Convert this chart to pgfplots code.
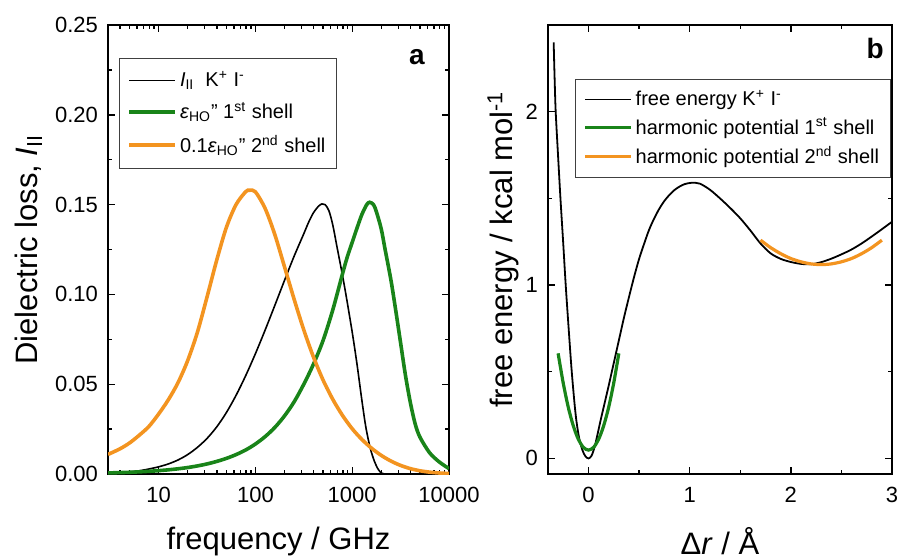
\documentclass[border=0pt]{standalone}
\usepackage{fontspec}
\setmainfont{Liberation Sans}
\usepackage{pgfplots}
\pgfplotsset{compat=1.18}
\definecolor{cgreen}{RGB}{25,132,25}
\definecolor{corange}{RGB}{243,148,32}
\pgfplotsset{
  myaxis/.style={
    scale only axis,
    anchor=south west,
    axis line style={line width=0.8pt},
    every tick/.style={line width=0.7pt, black},
    major tick length=3.5pt,
    minor tick length=2pt,
    tick align=inside,
    tick pos=both,
    tick label style={font=\fontsize{11}{13}\selectfont},
    x tick label style={yshift=-3pt},
    y tick label style={xshift=-1.5pt},
    label style={font=\fontsize{15.5}{18}\selectfont},
    legend cell align=left,
    legend image code/.code={\draw[##1] (0pt,0pt) -- (23pt,0pt);},
  }
}
\begin{document}
\begin{tikzpicture}
\path[use as bounding box] (-54pt,-42.5pt) rectangle (395.5pt,237pt);
% ---------------- panel a ----------------
\begin{axis}[myaxis,
  at={(0pt,0pt)},
  width=170.5pt, height=224.5pt,
  xmode=log, xmin=3, xmax=10000,
  ymin=0, ymax=0.25,
  xtick={10,100,1000,10000},
  xticklabels={10,100,1000,10000},
  minor xtick={4,5,6,7,8,9,20,30,40,50,60,70,80,90,200,300,400,500,600,700,800,900,2000,3000,4000,5000,6000,7000,8000,9000},
  ytick={0,0.05,0.10,0.15,0.20,0.25},
  yticklabels={0.00,0.05,0.10,0.15,0.20,0.25},
  minor ytick={0.025,0.075,0.125,0.175,0.225},
  xlabel={frequency / GHz},
  ylabel={Dielectric loss, \textit{I}\textsubscript{II}},
  xlabel style={at={(axis description cs:0.5,-0.169)}, anchor=base},
  ylabel style={at={(axis description cs:-0.208,0.5)}, anchor=base},
  legend style={at={(0.032,0.927)}, anchor=north west, draw=black!75, line width=0.5pt,
    font=\fontsize{10}{12}\selectfont, row sep=3.5pt, inner xsep=4pt, inner ysep=5pt,
    nodes={inner sep=1.5pt}},
]
\addplot[black, line width=0.8pt, smooth] coordinates {
(3,0.0005) (3.981,0.0008) (5.012,0.0012) (6.31,0.0018) (7.943,0.0028) (10,0.0040)
(12.59,0.0056) (15.85,0.0078) (19.95,0.0108) (25.12,0.0148) (31.62,0.0198) (39.81,0.0262)
(50.12,0.0342) (63.1,0.0438) (79.43,0.0548) (100,0.067) (125.9,0.0801) (158.5,0.0938)
(199.5,0.1077) (251.2,0.1213) (316.2,0.1338) (354.8,0.1402) (398.1,0.1455) (446.7,0.149)
(486.4,0.1504) (524.8,0.1500) (575.4,0.1465) (631,0.1385) (693.4,0.127) (781.6,0.1125)
(867,0.099) (1000,0.079) (1122,0.061) (1259,0.041) (1384,0.026) (1535,0.0145)
(1698,0.007) (1862,0.0025) (2018,0.0005) (2239,0) (3000,0) (10000,0)
};
\addlegendentry{\textit{I}\textsubscript{II}\ \ K\textsuperscript{+} I\textsuperscript{-}}
\addplot[cgreen, line width=1.8pt, smooth] coordinates {
(3,0.0006) (3.981,0.00078) (5.012,0.00097) (6.31,0.00121) (7.943,0.0015) (10,0.00187)
(12.59,0.00233) (15.85,0.0029) (19.95,0.0036) (25.12,0.0045) (31.62,0.0056) (39.81,0.0070)
(50.12,0.0087) (63.1,0.0108) (79.43,0.0134) (100,0.0167) (125.9,0.0208) (158.5,0.0259)
(199.5,0.0323) (251.2,0.0402) (316.2,0.0500) (398.1,0.0612) (501.2,0.0745) (631,0.0915)
(794.3,0.1115) (891.3,0.121) (1000,0.129) (1122,0.137) (1259,0.1445) (1413,0.150)
(1514,0.1513) (1660,0.1500) (1778,0.146) (1995,0.1365) (2188,0.125) (2512,0.108)
(2818,0.091) (3162,0.073) (3548,0.055) (3981,0.040) (4467,0.028) (5012,0.0205)
(6310,0.0118) (7943,0.0067) (10000,0.003)
};
\addlegendentry{\textit{ε}\textsubscript{HO}" 1\textsuperscript{st} shell}
\addplot[corange, line width=1.8pt, smooth] coordinates {
(3,0.0109) (3.981,0.0140) (5.012,0.0173) (6.31,0.0216) (7.943,0.0265) (10,0.0334)
(12.59,0.0413) (15.85,0.0508) (19.95,0.0631) (25.12,0.0788) (31.62,0.0985) (39.81,0.119)
(50.12,0.1373) (63.1,0.150) (79.43,0.1572) (87.1,0.158) (100,0.1571) (125.9,0.1479)
(158.5,0.1334) (199.5,0.1155) (251.2,0.0973) (316.2,0.0802) (398.1,0.0651) (501.2,0.0522)
(631,0.0415) (794.3,0.0326) (1000,0.0252) (1259,0.01924) (1585,0.01435) (1995,0.01038)
(2512,0.00721) (3162,0.00478) (3981,0.00301) (5012,0.0018) (6310,0.00103) (7943,0.00056)
(10000,0.0003)
};
\addlegendentry{0.1\textit{ε}\textsubscript{HO}" 2\textsuperscript{nd} shell}
\node[font=\fontsize{14}{16}\selectfont\bfseries, anchor=base] at (axis description cs:0.906,0.911) {a};
\end{axis}
% ---------------- panel b ----------------
\begin{axis}[myaxis,
  at={(220pt,0pt)},
  width=172pt, height=224.5pt,
  xmin=-0.4, xmax=3, ymin=-0.09, ymax=2.5,
  xtick={0,1,2,3}, xticklabels={0,1,2,3},
  minor xtick={0.5,1.5,2.5},
  ytick={0,1,2}, yticklabels={0,1,2},
  minor ytick={0.5,1.5},
  xlabel={Δ\textit{r} / Å},
  ylabel={free energy / kcal mol\textsuperscript{-1}},
  xlabel style={at={(axis description cs:0.5,-0.18)}, anchor=base},
  ylabel style={at={(axis description cs:-0.102,0.5)}, anchor=base},
  legend style={at={(0.0785,0.88)}, anchor=north west, draw=black!75, line width=0.5pt,
    font=\fontsize{10}{12}\selectfont, row sep=1.5pt, inner xsep=4pt, inner ysep=4pt,
    nodes={inner sep=1.5pt}},
]
\addplot[black, line width=0.9pt, smooth] coordinates {
(-0.344,2.40) (-0.335,2.20) (-0.324,2.00) (-0.30,1.74) (-0.277,1.50) (-0.25,1.245)
(-0.225,1.00) (-0.196,0.75) (-0.168,0.52) (-0.14,0.33) (-0.12,0.22) (-0.093,0.12)
(-0.06,0.048) (-0.03,0.012) (0,0) (0.03,0.015) (0.06,0.065) (0.09,0.14) (0.12,0.22)
(0.16,0.32) (0.2,0.42) (0.25,0.55) (0.3,0.68) (0.35,0.81) (0.4,0.93) (0.45,1.045)
(0.5,1.15) (0.557,1.25) (0.6,1.32) (0.65,1.385) (0.7,1.44) (0.75,1.485) (0.8,1.52)
(0.85,1.548) (0.9,1.568) (0.95,1.582) (1.02,1.59) (1.1,1.585) (1.2,1.55) (1.3,1.50)
(1.4,1.445) (1.5,1.385) (1.6,1.315) (1.7,1.24) (1.8,1.183) (1.9,1.151) (2.0,1.133)
(2.1,1.122) (2.2,1.12) (2.3,1.132) (2.4,1.152) (2.5,1.177) (2.6,1.205) (2.7,1.24)
(2.8,1.28) (2.9,1.322) (3.0,1.365)
};
\addlegendentry{free energy K\textsuperscript{+} I\textsuperscript{-}}
\addplot[cgreen, line width=1.6pt, smooth] coordinates {
(-0.30,0.606) (-0.25,0.436) (-0.20,0.296) (-0.15,0.188) (-0.10,0.110) (-0.05,0.0635)
(0,0.048) (0.05,0.0635) (0.10,0.110) (0.15,0.188) (0.20,0.296) (0.25,0.436) (0.30,0.606)
};
\addlegendentry{harmonic potential 1\textsuperscript{st} shell}
\addplot[corange, line width=1.6pt, smooth] coordinates {
(1.70,1.259) (1.80,1.216) (1.90,1.181) (2.00,1.153) (2.10,1.134) (2.20,1.122) (2.30,1.118)
(2.40,1.122) (2.50,1.134) (2.60,1.153) (2.70,1.181) (2.80,1.216) (2.90,1.259)
};
\addlegendentry{harmonic potential 2\textsuperscript{nd} shell}
\node[font=\fontsize{14}{16}\selectfont\bfseries, anchor=base] at (axis description cs:0.951,0.926) {b};
\end{axis}
\end{tikzpicture}
\end{document}
